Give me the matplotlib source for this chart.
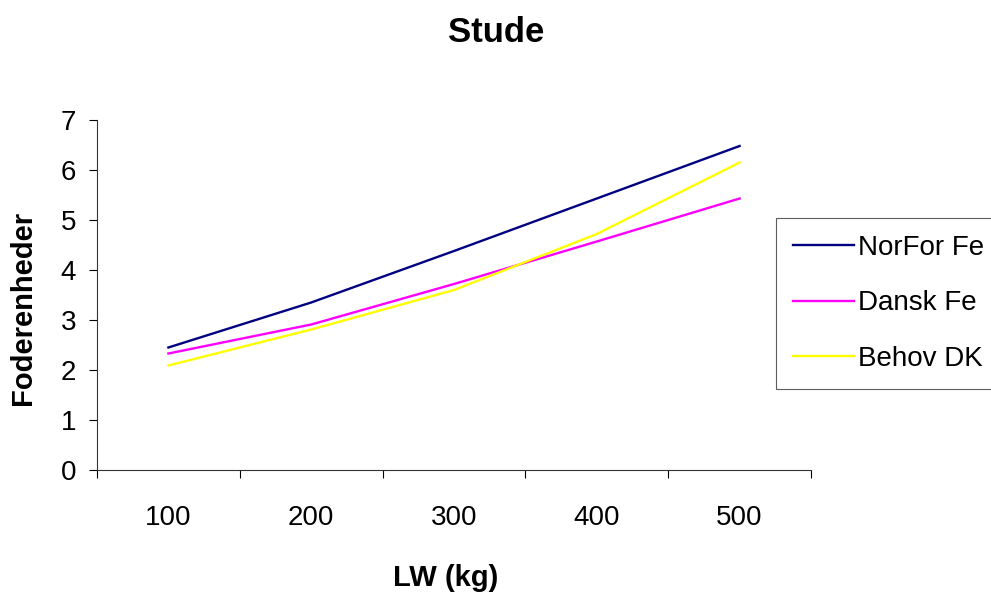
import matplotlib.pyplot as plt

plt.rcParams['font.family'] = ['Liberation Sans', 'DejaVu Sans']

# LW categories and feed units
lw = ['100', '200', '300', '400', '500']
norfor_fe = [2.45, 3.35, 4.38, 5.43, 6.48]
dansk_fe = [2.33, 2.91, 3.72, 4.57, 5.43]
behov_dk = [2.09, 2.81, 3.60, 4.72, 6.15]

W, H = 991, 594
fig = plt.figure(figsize=(W / 100, H / 100), dpi=100)
ax = fig.add_axes([97 / W, 1 - 470 / H, (811 - 97) / W, (470 - 120) / H])

pos = list(range(1, len(lw) + 1))
ax.plot(pos, norfor_fe, color='#000080', lw=1.7, label='NorFor Fe')
ax.plot(pos, dansk_fe, color='#FF00FF', lw=1.7, label='Dansk Fe')
ax.plot(pos, behov_dk, color='#FFFF00', lw=1.7, label='Behov DK')

ax.set_xlim(0.5, len(lw) + 0.5)
ax.set_ylim(0, 7)
ax.set_yticks(range(0, 8))
ax.set_xticks(pos)
ax.set_xticklabels(lw)
ax.set_xticks([p + 0.5 for p in range(0, len(lw) + 1)], minor=True)
ax.tick_params(axis='x', which='major', length=0, pad=25, labelsize=20)
ax.tick_params(axis='x', which='minor', length=6, direction='out', width=0.8)
ax.tick_params(axis='y', length=6, direction='out', width=0.8, labelsize=20, pad=9)

for s in ['top', 'right']:
    ax.spines[s].set_visible(False)
for s in ['left', 'bottom']:
    ax.spines[s].set_linewidth(0.8)
    ax.spines[s].set_color('#333333')

fig.text(496 / W, 1 - 33 / H, 'Stude', ha='center', va='center',
         fontsize=25, fontweight='bold')
fig.text(446 / W, 1 - 578 / H, 'LW (kg)', ha='center', va='center',
         fontsize=21, fontweight='bold')
fig.text(23 / W, 1 - 308 / H, 'Foderenheder', ha='center', va='center',
         rotation=90, fontsize=21, fontweight='bold')

leg = fig.legend(loc='upper left', bbox_to_anchor=(776 / W, 1 - 218 / H),
                 fontsize=20, frameon=True, fancybox=False, borderaxespad=0,
                 handlelength=2.2, handletextpad=0.15, labelspacing=1.07,
                 borderpad=0.6)
leg.get_frame().set_edgecolor('#333333')
leg.get_frame().set_linewidth(0.8)

fig.savefig('out.png', dpi=100)
